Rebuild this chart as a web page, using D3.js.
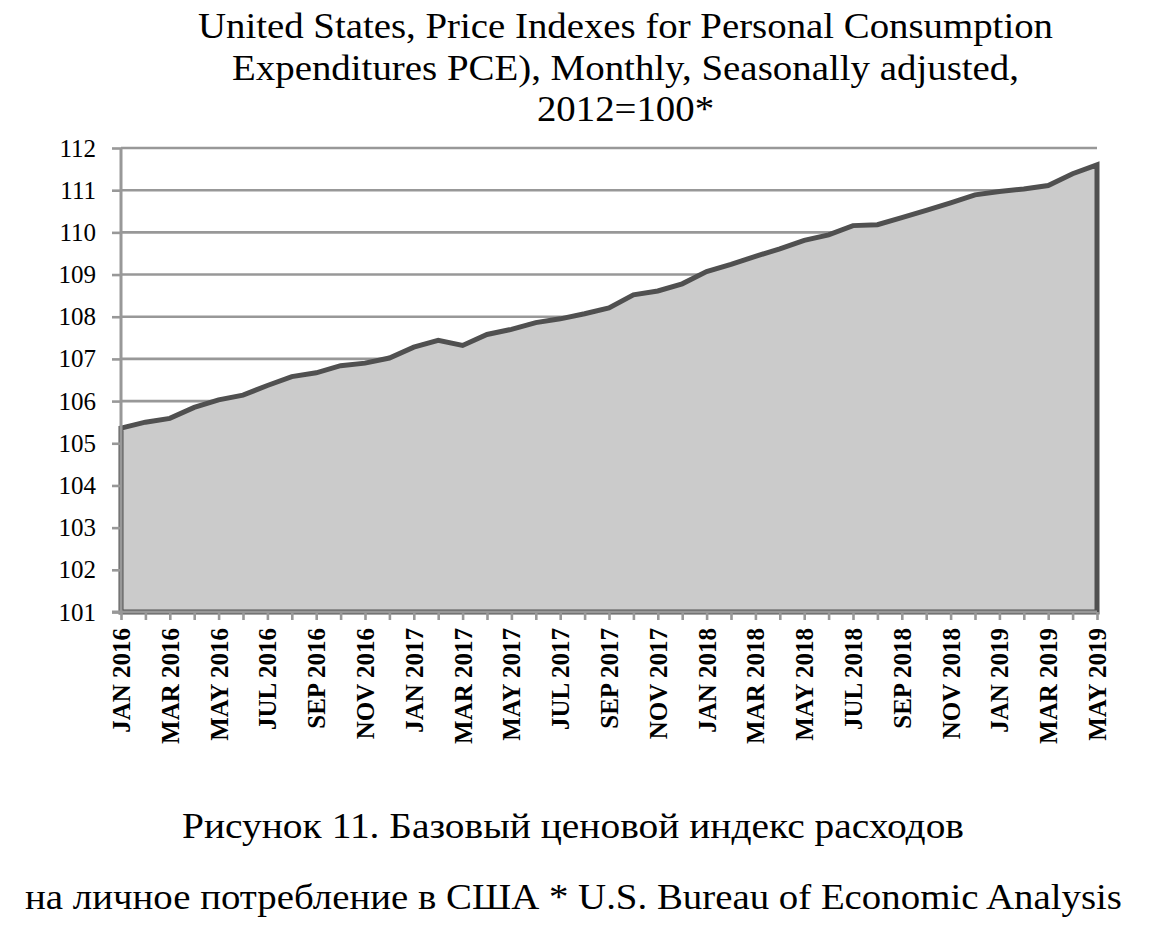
<!DOCTYPE html>
<html>
<head>
<meta charset="utf-8">
<script src="https://cdn.jsdelivr.net/npm/d3@7"></script>
<style>
  html, body { margin: 0; padding: 0; background: #fff; }
  svg { display: block; }
  text { font-family: "Liberation Serif", "Times New Roman", serif; fill: #000; }
</style>
</head>
<body>
<svg id="chart" width="1168" height="943"></svg>
<script>
// ---- Data ----
const months = [
  "JAN 2016","FEB 2016","MAR 2016","APR 2016","MAY 2016","JUN 2016","JUL 2016","AUG 2016","SEP 2016","OCT 2016","NOV 2016","DEC 2016",
  "JAN 2017","FEB 2017","MAR 2017","APR 2017","MAY 2017","JUN 2017","JUL 2017","AUG 2017","SEP 2017","OCT 2017","NOV 2017","DEC 2017",
  "JAN 2018","FEB 2018","MAR 2018","APR 2018","MAY 2018","JUN 2018","JUL 2018","AUG 2018","SEP 2018","OCT 2018","NOV 2018","DEC 2018",
  "JAN 2019","FEB 2019","MAR 2019","APR 2019","MAY 2019"
];
const pceValues = [
  105.36, 105.50, 105.59, 105.85, 106.03, 106.14, 106.37, 106.58, 106.67, 106.84, 106.90, 107.02,
  107.28, 107.44, 107.32, 107.58, 107.70, 107.86, 107.95, 108.07, 108.21, 108.52, 108.61, 108.78,
  109.07, 109.24, 109.43, 109.61, 109.81, 109.94, 110.16, 110.18, 110.35, 110.52, 110.70, 110.89,
  110.97, 111.03, 111.11, 111.39, 111.60
];
const xTickLabels = months.filter((m, i) => i % 2 === 0);
const yTicks = [101,102,103,104,105,106,107,108,109,110,111,112];
const titleLines = [
  "United States, Price Indexes for Personal Consumption",
  "Expenditures PCE), Monthly, Seasonally adjusted,",
  "2012=100*"
];
const captionLines = [
  "Рисунок 11. Базовый ценовой индекс расходов",
  "на личное потребление в США * U.S. Bureau of Economic Analysis"
];

(function () {
const svg = d3.select("#chart");
const pLeft = 121, pRight = 1097, pTop = 148, pBottom = 612;
const gridColor = "#989898";

const x = d3.scalePoint().domain(months).range([pLeft, pRight]);
const y = d3.scaleLinear().domain([101, 112]).range([pBottom, pTop]);

const data = months.map((m, i) => ({ m, v: pceValues[i] }));

// Title
const titleY = [38, 80, 121];
const titleLen = [855, 787, null];
const tTexts = svg.append("g").selectAll("text").data(titleLines).join("text")
  .attr("x", 625.5)
  .attr("y", (d, i) => titleY[i])
  .attr("text-anchor", "middle")
  .attr("font-size", 35)
  .text(d => d);
const natural0 = tTexts.nodes()[0].getComputedTextLength();
const stretch = 855 / natural0;
tTexts.each(function (d, i) {
  const w = titleLen[i] || this.getComputedTextLength() * stretch;
  d3.select(this).attr("textLength", w).attr("lengthAdjust", "spacingAndGlyphs");
});

// Gridlines
svg.append("g").selectAll("line").data(yTicks.filter(t => t !== 101)).join("line")
  .attr("x1", pLeft).attr("x2", pRight)
  .attr("y1", d => y(d)).attr("y2", d => y(d))
  .attr("stroke", gridColor).attr("stroke-width", 2.6);

// Area
const area = d3.area()
  .x(d => x(d.m))
  .y0(y(101))
  .y1(d => y(d.v));
svg.append("path")
  .datum(data)
  .attr("d", area)
  .attr("fill", "#cbcbcb")
  .attr("stroke", "#505050")
  .attr("stroke-width", 5)
  .attr("stroke-linejoin", "miter");

// Y axis
const yAxis = d3.axisLeft(y).tickValues(yTicks).tickSize(9).tickPadding(16).tickFormat(d3.format("d"));
const gy = svg.append("g").attr("transform", `translate(${pLeft},0)`).call(yAxis);
gy.select(".domain").attr("stroke", gridColor).attr("stroke-width", 3)
  .attr("d", `M0,${pTop}V${pBottom}`);
gy.selectAll(".tick line").attr("stroke", gridColor).attr("stroke-width", 2.6);
gy.selectAll(".tick text")
  .attr("font-size", 25)
  .attr("font-family", "Liberation Serif, Times New Roman, serif")
  .attr("fill", "#000");

// X axis
const xAxis = d3.axisBottom(x).tickSize(8)
  .tickFormat(d => xTickLabels.includes(d) ? d : "");
const gx = svg.append("g").attr("transform", `translate(0,${pBottom})`).call(xAxis);
gx.select(".domain").attr("stroke", gridColor).attr("stroke-width", 3)
  .attr("d", `M${pLeft - 9},0H${pRight}`);
gx.selectAll(".tick line").attr("stroke", gridColor).attr("stroke-width", 2.6);
gx.selectAll(".tick text")
  .attr("font-size", 25)
  .attr("font-weight", "bold")
  .attr("font-family", "Liberation Serif, Times New Roman, serif")
  .attr("fill", "#000")
  .attr("text-anchor", "end")
  .attr("transform", "rotate(-90)")
  .attr("x", -16)
  .attr("y", 0)
  .attr("dy", "0.34em");

// Caption
const capSpecs = [
  { x: 573, y: 838, len: 782 },
  { x: 573.5, y: 909, len: 1097 }
];
svg.append("g").selectAll("text").data(captionLines).join("text")
  .attr("x", (d, i) => capSpecs[i].x)
  .attr("y", (d, i) => capSpecs[i].y)
  .attr("text-anchor", "middle")
  .attr("font-size", 36)
  .attr("textLength", (d, i) => capSpecs[i].len)
  .attr("lengthAdjust", "spacingAndGlyphs")
  .text(d => d);
})();
</script>
</body>
</html>
